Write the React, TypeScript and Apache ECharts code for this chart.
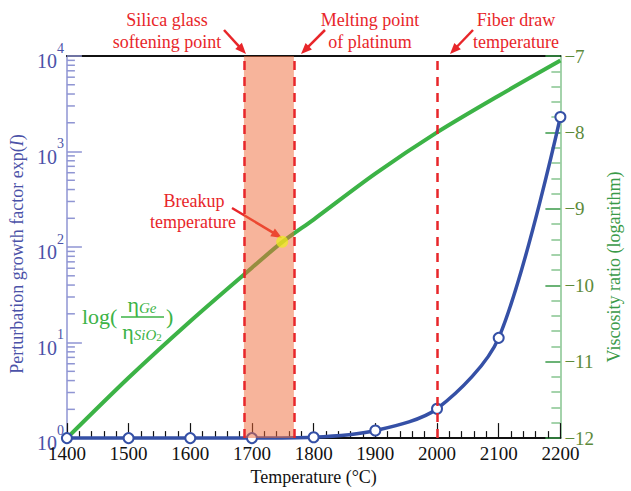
import React, { useEffect, useRef } from "react";
import * as echarts from "echarts";

// ---- data ----
const temperatures = [1400, 1500, 1600, 1700, 1800, 1900, 2000, 2100, 2200];
const growthFactor = [1, 1, 1, 1, 1.02, 1.2, 2.03, 11.2, 2300];
const viscosityTemps = [1400, 1500, 1600, 1700, 1750, 1800, 1900, 2000, 2100, 2200];
const viscosityRatio = [-12, -11.21, -10.47, -9.77, -9.43, -9.14, -8.54, -8.0, -7.52, -7.06];
const breakupPoint = [1749, -9.43];
const softeningPoint = 1687;
const platinumMelting = 1768;
const fiberDraw = 2000;
const xTicks = { min: 1400, max: 2200, interval: 100 };
const leftDecades = [1, 10, 100, 1000];
const leftMinorMultipliers = [2, 3, 4, 5, 6, 7, 8, 9];

const FONT = '"Liberation Serif", "Times New Roman", serif';
const RED = "#e8262a";
const BLUE = "#3550a6";
const GREEN = "#3cb346";
const AXIS_BLUE = "#8f95d3";
const LABEL_BLUE = "#4b52a8";
const AXIS_GREEN = "#86c48f";

function arrow(x1: number, y1: number, x2: number, y2: number) {
  const dx = x2 - x1, dy = y2 - y1;
  const L = Math.hypot(dx, dy);
  const ux = dx / L, uy = dy / L;
  const hl = 11, hw = 4.5;
  const bx = x2 - ux * hl, by = y2 - uy * hl;
  return [
    { type: "line", shape: { x1, y1, x2: bx + ux * 2, y2: by + uy * 2 }, style: { stroke: RED, lineWidth: 2.5 } },
    {
      type: "polygon",
      shape: { points: [[x2, y2], [bx - uy * hw, by + ux * hw], [bx + uy * hw, by - ux * hw]] },
      style: { fill: RED },
    },
  ];
}

function redText(text: string, x: number, y: number) {
  return {
    type: "text",
    x,
    y,
    style: {
      text,
      fill: RED,
      font: '18px "Liberation Serif", serif',
      fontSize: 18,
      fontFamily: FONT,
      align: "center",
      verticalAlign: "middle",
    },
  };
}

export default function App() {
  const ref = useRef<HTMLDivElement>(null);
  useEffect(() => {
    if (!ref.current) return;
    const chart = echarts.init(ref.current, null, { renderer: "svg" });
    const minorTickData: number[][] = [];
    leftDecades.forEach((d) => leftMinorMultipliers.forEach((m) => minorTickData.push([xTicks.min, d * m])));

    const option: any = {
      animation: false,
      backgroundColor: "#ffffff",
      grid: { left: 63, right: 55, top: 56, bottom: 46 },
      xAxis: [
        {
          type: "value",
          min: xTicks.min,
          max: xTicks.max,
          interval: xTicks.interval,
          position: "bottom",
          name: "Temperature (\u00b0C)",
          nameLocation: "middle",
          nameGap: 28,
          nameTextStyle: { color: "#111", fontSize: 18, fontFamily: FONT },
          axisLine: { show: true, onZero: false, lineStyle: { color: "#111", width: 2 } },
          axisTick: { show: true, inside: true, length: 15, lineStyle: { color: "#111", width: 1.2 } },
          minorTick: { show: true, splitNumber: 5, length: 7, lineStyle: { color: "#111", width: 1.2 } },
          axisLabel: { color: "#111", fontSize: 19, fontFamily: FONT, margin: 6, formatter: (v: number) => String(v) },
          splitLine: { show: false },
          minorSplitLine: { show: false },
        },
        {
          type: "value",
          min: xTicks.min,
          max: xTicks.max,
          position: "top",
          axisLine: { show: true, onZero: false, lineStyle: { color: "#111", width: 2 } },
          axisTick: { show: false },
          axisLabel: { show: false },
          splitLine: { show: false },
        },
      ],
      yAxis: [
        {
          type: "log",
          logBase: 10,
          min: 1,
          max: 10000,
          position: "left",
          name: "Perturbation growth factor exp({i|I})",
          nameLocation: "middle",
          nameRotate: 90,
          nameGap: 32,
          nameTextStyle: {
            color: LABEL_BLUE,
            fontSize: 18,
            fontFamily: FONT,
            padding: [0, 14, 0, 0],
            rich: { i: { fontStyle: "italic", color: LABEL_BLUE, fontSize: 18, fontFamily: FONT } },
          },
          axisLine: { show: true, onZero: false, lineStyle: { color: AXIS_BLUE, width: 1.5 } },
          axisTick: { show: true, inside: true, length: 15, lineStyle: { color: AXIS_BLUE, width: 1.5 } },
          axisLabel: {
            margin: 3,
            formatter: (v: number) => `{b|10}{s|${Math.round(Math.log10(v))}}`,
            rich: {
              b: { color: LABEL_BLUE, fontSize: 20, fontFamily: FONT, padding: [10, 0, 0, 0] },
              s: { color: LABEL_BLUE, fontSize: 14, fontFamily: FONT, verticalAlign: "top" },
            },
          },
          splitLine: { show: false },
        },
        {
          type: "value",
          min: -12,
          max: -7,
          interval: 1,
          position: "right",
          name: "Viscosity ratio (logarithm)",
          nameLocation: "middle",
          nameRotate: 90,
          nameGap: 37,
          nameTextStyle: { color: "#3a9a48", fontSize: 18, fontFamily: FONT, padding: [0, 40, 0, 0] },
          axisLine: { show: true, onZero: false, lineStyle: { color: AXIS_GREEN, width: 1.5 } },
          axisTick: { show: true, inside: true, length: 15, lineStyle: { color: "#3a9a48", width: 1.5 } },
          minorTick: { show: true, splitNumber: 5, length: 9, lineStyle: { color: AXIS_GREEN, width: 1.5 } },
          axisLabel: {
            color: "#5c8a3a",
            fontSize: 19,
            fontFamily: FONT,
            margin: 4,
            formatter: (v: number) => (v < 0 ? "\u2212" + Math.abs(v) : String(v)),
          },
          splitLine: { show: false },
          minorSplitLine: { show: false },
        },
      ],
      series: [
        {
          name: "viscosity",
          type: "line",
          xAxisIndex: 0,
          yAxisIndex: 1,
          data: viscosityTemps.map((t, i) => [t, viscosityRatio[i]]),
          smooth: 0.3,
          symbol: "none",
          lineStyle: { color: GREEN, width: 4 },
          z: 2,
          clip: false,
          markLine: {
            silent: true,
            symbol: "none",
            label: { show: false },
            lineStyle: { color: RED, width: 2.5, type: [9, 7] },
            data: [{ xAxis: softeningPoint }, { xAxis: platinumMelting }, { xAxis: fiberDraw }],
            z: 6,
          },
        },
        {
          name: "growth",
          type: "line",
          xAxisIndex: 0,
          yAxisIndex: 0,
          data: temperatures.map((t, i) => [t, growthFactor[i]]),
          smooth: 0.3,
          symbol: "emptyCircle",
          symbolSize: 10,
          lineStyle: { color: BLUE, width: 3.5 },
          itemStyle: { color: BLUE, borderWidth: 3 },
          z: 3,
          clip: false,
        },
        {
          name: "band",
          type: "custom",
          xAxisIndex: 0,
          yAxisIndex: 1,
          data: [[softeningPoint, -12, platinumMelting, -7]],
          encode: { x: [0, 2], y: [1, 3] },
          renderItem: (params: any, api: any) => {
            const p0 = api.coord([api.value(0), api.value(3)]);
            const p1 = api.coord([api.value(2), api.value(1)]);
            return {
              type: "rect",
              shape: { x: p0[0], y: p0[1], width: p1[0] - p0[0], height: p1[1] - p0[1] },
              style: { fill: "rgba(239,105,55,0.5)" },
            };
          },
          z: 4,
          silent: true,
        },
        {
          name: "breakup",
          type: "scatter",
          xAxisIndex: 0,
          yAxisIndex: 1,
          data: [breakupPoint],
          symbolSize: 12,
          itemStyle: { color: "rgba(238,238,30,0.92)" },
          z: 7,
        },
        {
          name: "leftMinorTicks",
          type: "custom",
          xAxisIndex: 0,
          yAxisIndex: 0,
          data: minorTickData,
          clip: false,
          silent: true,
          renderItem: (params: any, api: any) => {
            const p = api.coord([api.value(0), api.value(1)]);
            return {
              type: "line",
              shape: { x1: p[0], y1: p[1], x2: p[0] + 8, y2: p[1] },
              style: { stroke: AXIS_BLUE, lineWidth: 1.5 },
            };
          },
          z: 1,
        },
      ],
      graphic: [
        redText("Silica glass", 167, 20),
        redText("softening point", 167, 42),
        ...arrow(224, 30, 246, 54),
        redText("Melting point", 370, 20),
        redText("of platinum", 370, 42),
        ...arrow(325, 30, 301, 54),
        redText("Fiber draw", 516, 20),
        redText("temperature", 516, 42),
        ...arrow(473, 30, 450, 54),
        redText("Breakup", 194, 201),
        redText("temperature", 193, 222),
        ...arrow(232, 208, 282, 238),
        {
          type: "text",
          x: 82,
          y: 316,
          style: {
            text: "log(",
            fill: GREEN,
            font: '22px "Liberation Serif", serif',
            fontSize: 22,
            fontFamily: FONT,
            align: "left",
            verticalAlign: "middle",
          },
        },
        {
          type: "text",
          x: 142,
          y: 304,
          style: {
            text: "{e|\u03b7}{g|Ge}",
            align: "center",
            verticalAlign: "middle",
            rich: {
              e: { fill: GREEN, fontSize: 22, fontFamily: FONT },
              g: { fill: GREEN, fontSize: 15, fontStyle: "italic", fontFamily: FONT, verticalAlign: "bottom" },
            },
          },
        },
        { type: "line", shape: { x1: 121, y1: 317, x2: 164, y2: 317 }, style: { stroke: GREEN, lineWidth: 1.5 } },
        {
          type: "text",
          x: 142,
          y: 331,
          style: {
            text: "{e|\u03b7}{g|SiO}{t|2}",
            align: "center",
            verticalAlign: "middle",
            rich: {
              e: { fill: GREEN, fontSize: 22, fontFamily: FONT },
              g: { fill: GREEN, fontSize: 15, fontStyle: "italic", fontFamily: FONT, verticalAlign: "bottom" },
              t: { fill: GREEN, fontSize: 11, fontFamily: FONT, verticalAlign: "bottom", padding: [6, 0, 0, 0] },
            },
          },
        },
        {
          type: "text",
          x: 166,
          y: 316,
          style: {
            text: ")",
            fill: GREEN,
            font: '22px "Liberation Serif", serif',
            fontSize: 22,
            fontFamily: FONT,
            align: "left",
            verticalAlign: "middle",
          },
        },
      ],
    };
    chart.setOption(option);
    return () => chart.dispose();
  }, []);
  return <div ref={ref} style={{ position: "fixed", left: 0, top: 0, width: 631, height: 491 }} />;
}
